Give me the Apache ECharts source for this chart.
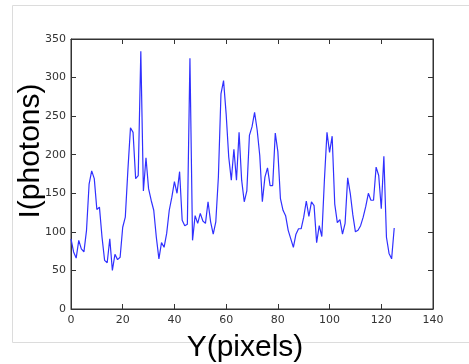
<!DOCTYPE html>
<html>
<head>
<meta charset="utf-8">
<script src="https://cdn.jsdelivr.net/npm/echarts@6/dist/echarts.min.js"></script>
<style>
  html, body { margin: 0; padding: 0; background: #fff; }
  #line { width: 469px; height: 364px; }
</style>
</head>
<body>
<div id="line"></div>
<script>
// intensity per pixel row (x = 0..125)
var photons = [
    91, 74, 66, 89, 78, 74, 102, 162, 179, 169,
    129, 132, 93, 63, 60, 91, 50, 71, 64, 67,
    106, 119, 180, 235, 229, 169, 173, 334, 153, 196,
    156, 141, 128, 93, 65, 86, 80, 98, 128, 145,
    165, 150, 178, 115, 108, 110, 325, 89, 121, 111,
    124, 114, 111, 139, 113, 97, 113, 171, 279, 296,
    253, 197, 167, 207, 167, 229, 167, 139, 153, 225,
    236, 255, 232, 199, 139, 171, 183, 160, 160, 228,
    204, 143, 128, 121, 102, 91, 80, 97, 104, 104,
    119, 140, 120, 139, 134, 86, 108, 94, 167, 229,
    203, 224, 136, 112, 116, 97, 111, 170, 150, 122,
    100, 102, 108, 119, 133, 150, 141, 141, 184, 173,
    130, 198, 93, 72, 65, 105
];
var xTicks = [0, 20, 40, 60, 80, 100, 120, 140];
var yTicks = [0, 50, 100, 150, 200, 250, 300, 350];

var points = photons.map(function (v, i) { return [i, v]; });

var mcharts = echarts.init(document.getElementById('line'));

var tickStyle = { fontFamily: 'DejaVu Sans', fontSize: 11, color: '#333' };
var axisLine = { show: true, onZero: false, lineStyle: { color: '#333', width: 1 } };
var inTick = { show: true, inside: true, length: 5, lineStyle: { color: '#333' } };

var option = {
    animation: false,
    backgroundColor: '#fff',
    grid: { left: 71, right: 36, top: 39, bottom: 55,
            show: true, borderColor: '#333', borderWidth: 1 },
    xAxis: [
        {
            type: 'value', min: xTicks[0], max: xTicks[xTicks.length - 1], interval: 20,
            axisLine: axisLine, axisTick: inTick,
            axisLabel: Object.assign({ margin: 6 }, tickStyle),
            splitLine: { show: false }
        },
        {
            type: 'value', position: 'top', min: xTicks[0], max: xTicks[xTicks.length - 1], interval: 20,
            axisLine: axisLine, axisTick: inTick,
            axisLabel: { show: false },
            splitLine: { show: false }
        }
    ],
    yAxis: [
        {
            type: 'value', min: yTicks[0], max: yTicks[yTicks.length - 1], interval: 50,
            axisLine: axisLine, axisTick: inTick,
            axisLabel: Object.assign({ margin: 5 }, tickStyle),
            splitLine: { show: false }
        },
        {
            type: 'value', position: 'right', min: yTicks[0], max: yTicks[yTicks.length - 1], interval: 50,
            axisLine: axisLine, axisTick: inTick,
            axisLabel: { show: false },
            splitLine: { show: false }
        }
    ],
    graphic: [
        // light frame around the figure
        { type: 'polyline', silent: true,
          shape: { points: [[469, 5.5], [12.5, 5.5], [12.5, 342.5], [469, 342.5]] },
          style: { stroke: '#dcdcdc', fill: null, lineWidth: 1 } },
        { type: 'text', x: 245, y: 348, silent: true,
          style: { text: 'Y(pixels)', fontFamily: 'Liberation Sans', fontSize: 30,
                   fill: '#000', align: 'center', verticalAlign: 'middle' } },
        { type: 'text', x: 31, y: 151, rotation: Math.PI / 2, silent: true,
          style: { text: 'I(photons)', fontFamily: 'Liberation Sans', fontSize: 30,
                   fill: '#000', align: 'center', verticalAlign: 'middle' } }
    ],
    series: [
        {
            type: 'line',
            xAxisIndex: 0,
            yAxisIndex: 0,
            data: points,
            showSymbol: false,
            lineStyle: { color: '#3030ff', width: 1.2 }
        },
        {
            // keeps the top and right axes drawn
            type: 'line',
            xAxisIndex: 1,
            yAxisIndex: 1,
            data: [],
            showSymbol: false
        }
    ]
};

mcharts.setOption(option, true);
</script>
</body>
</html>
